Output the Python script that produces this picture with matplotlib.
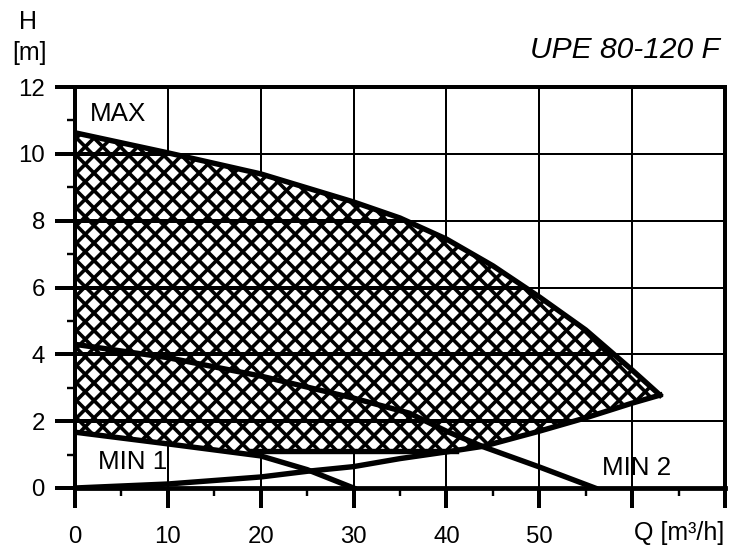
import numpy as np
import matplotlib
matplotlib.use("Agg")
import matplotlib.pyplot as plt
from matplotlib.patches import Polygon
from matplotlib.collections import LineCollection

# curve data (Q in m3/h, H in m)
max_q = [0, 10, 20, 30, 35, 40, 45, 50, 55, 60, 63]
max_h = [10.63, 10.03, 9.4, 8.56, 8.08, 7.45, 6.65, 5.72, 4.73, 3.53, 2.78]

sys_q = [0, 10, 20, 25, 30, 35, 40, 44, 50, 55, 60, 63]
sys_h = [0, 0.12, 0.33, 0.5, 0.64, 0.88, 1.08, 1.25, 1.7, 2.1, 2.54, 2.78]

min1_q = [0, 10, 20, 25, 30]
min1_h = [1.67, 1.32, 0.96, 0.55, 0.0]

min2_q = [0, 10, 20, 30, 36, 40, 44, 50, 56]
min2_h = [4.3, 3.9, 3.35, 2.69, 2.24, 1.7, 1.23, 0.63, 0.0]

shelf_q = [19, 41]
shelf_h = [1.12, 1.12]

x_major = [0, 10, 20, 30, 40, 50, 60, 70]
x_labels = ["0", "10", "20", "30", "40", "50", "", ""]
y_major = [0, 2, 4, 6, 8, 10, 12]

plt.rcParams["font.family"] = ["Liberation Sans", "DejaVu Sans"]

DPI = 144
W, H = 739, 548
AX_W, AX_H = 650, 401
fig = plt.figure(figsize=(W / DPI, H / DPI), dpi=DPI)
ax = fig.add_axes([75 / W, 1 - 488 / H, AX_W / W, AX_H / H])

# hatched operating area: MAX on top, MIN1 / shelf / system curve below
low_q = [0, 10, 19, 19, 41, 44, 50, 55, 60, 63]
low_h = [1.67, 1.32, 1.0, 1.12, 1.12, 1.25, 1.7, 2.1, 2.54, 2.78]
poly_x = list(max_q) + low_q[::-1]
poly_y = list(max_h) + low_h[::-1]
area = Polygon(np.column_stack([poly_x, poly_y]), closed=True,
               facecolor="white", edgecolor="none", lw=0, zorder=2)
ax.add_patch(area)

# cross hatch drawn by hand (45 deg on screen)
step = 17.5
segs = []
for c in np.arange(-AX_H, AX_W + AX_H, step):
    segs.append([(c / AX_W, 0), ((c + AX_H) / AX_W, 1)])
    segs.append([(c / AX_W, 0), ((c - AX_H) / AX_W, 1)])
hatch = LineCollection(segs, colors="black", linewidths=1.8,
                       transform=ax.transAxes, zorder=2.5)
ax.add_collection(hatch)
hatch.set_clip_path(area)

# thicker horizontal grid inside the hatch
for y in y_major[1:-1]:
    ln, = ax.plot([0, 70], [y, y], color="black", lw=2, zorder=3)
    ln.set_clip_path(area)

lw = 2.7
ax.plot(max_q, max_h, color="black", lw=lw, zorder=4)
ax.plot(sys_q, sys_h, color="black", lw=lw, zorder=4)
ax.plot(min1_q, min1_h, color="black", lw=lw, zorder=4)
ax.plot(min2_q, min2_h, color="black", lw=lw, zorder=4)
ax.plot(shelf_q, shelf_h, color="black", lw=lw, zorder=4)

ax.set_xlim(0, 70)
ax.set_ylim(0, 12)
ax.set_xticks(x_major)
ax.set_xticklabels(x_labels)
ax.set_xticks(np.arange(5, 70, 10), minor=True)
ax.set_yticks(y_major)
ax.set_yticks(np.arange(1, 12, 2), minor=True)
ax.grid(which="major", color="black", lw=1, zorder=1)
ax.set_axisbelow(True)

ax.tick_params(axis="both", which="major", direction="out", length=10,
               width=2, labelsize=12, color="black")
ax.tick_params(axis="both", which="minor", direction="out", length=4, width=1.2)
ax.tick_params(axis="x", which="major", pad=9)
ax.tick_params(axis="y", which="major", pad=5)

for side in ["left", "right", "top"]:
    ax.spines[side].set_linewidth(2)
ax.spines["bottom"].set_linewidth(2.4)

ax.text(1.6, 11.2, "MAX", fontsize=13, va="center", ha="left")
ax.text(2.5, 0.78, "MIN 1", fontsize=13, va="center", ha="left")
ax.text(56.8, 0.6, "MIN 2", fontsize=13, va="center", ha="left")

fig.text(28 / W, 1 - 22 / H, "H", fontsize=12.5, ha="center", va="center")
fig.text(30 / W, 1 - 53 / H, "[m]", fontsize=12.5, ha="center", va="center")
fig.text(720 / W, 1 - 50 / H, "UPE 80-120 F", fontsize=15, style="italic",
         ha="right", va="center")
fig.text(724 / W, 1 - 533 / H, "Q [m³/h]", fontsize=12.5, ha="right", va="center")

fig.savefig("out.png", dpi=DPI, facecolor="white")
